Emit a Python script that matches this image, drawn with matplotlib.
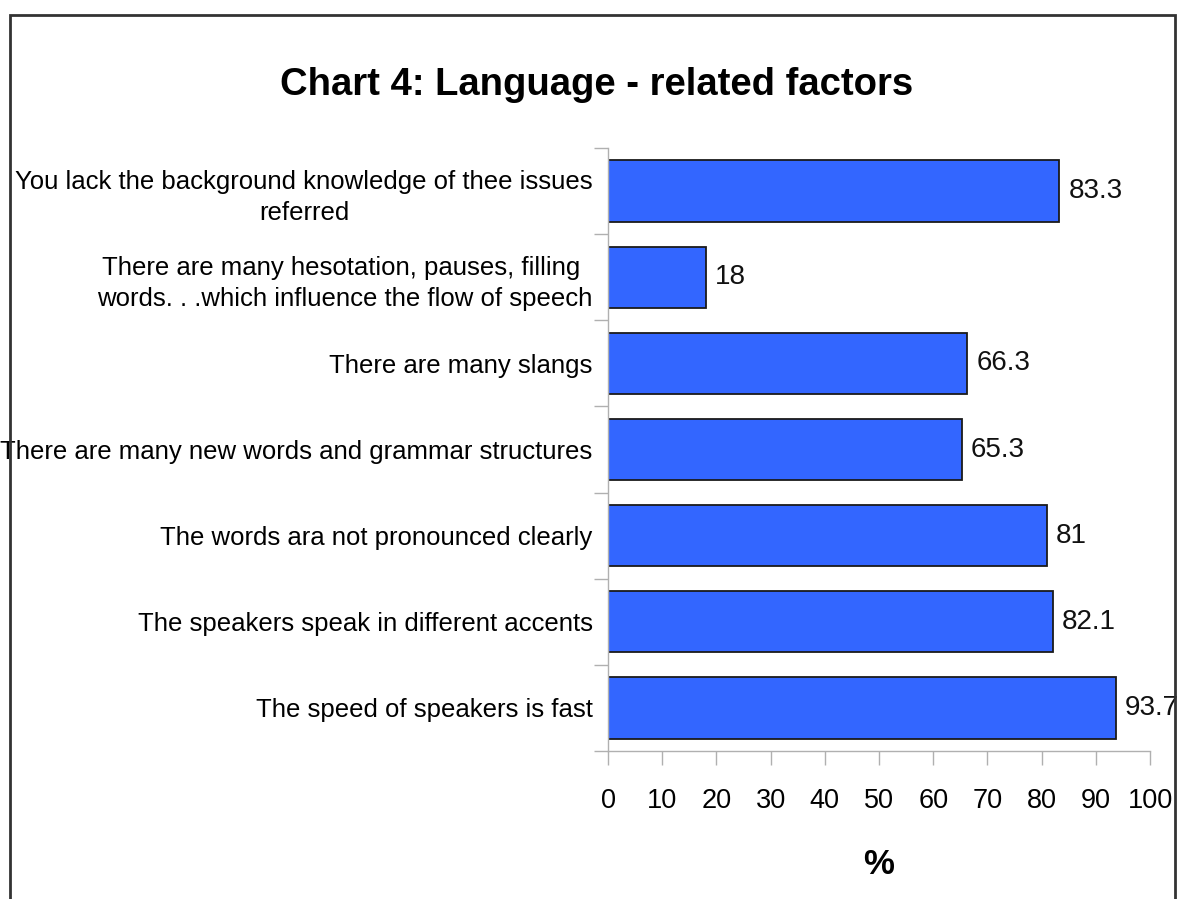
import matplotlib
matplotlib.use("Agg")
import matplotlib.pyplot as plt
from matplotlib.patches import Rectangle

categories = [
    "You lack the background knowledge of thee issues\nreferred",
    "There are many hesotation, pauses, filling \nwords. . .which influence the flow of speech",
    "There are many slangs",
    "There are many new words and grammar structures",
    "The words ara not pronounced clearly",
    "The speakers speak in different accents",
    "The speed of speakers is fast",
]
values = [83.3, 18, 66.3, 65.3, 81, 82.1, 93.7]
xticks = [0, 10, 20, 30, 40, 50, 60, 70, 80, 90, 100]
title = "Chart 4: Language - related factors"
xlabel = "%"

plt.rcParams["font.family"] = ["Liberation Sans", "DejaVu Sans"]

W, H = 1177, 899
fig = plt.figure(figsize=(W / 100, H / 100), dpi=100)
fig.patch.set_facecolor("white")

ax = fig.add_axes([608 / W, 1 - 751 / H, (1150 - 608) / W, (751 - 148) / H])
ypos = list(range(len(categories)))
ax.barh(ypos, values, height=0.71, color="#3366ff", edgecolor="#1a1a1a", linewidth=1.3)
ax.set_ylim(len(categories) - 0.5, -0.5)
ax.set_xlim(0, 100)

for y, v in zip(ypos, values):
    ax.annotate(f"{v:g}", xy=(v, y), xytext=(6.5, 0), textcoords="offset points",
                ha="left", va="center", fontsize=20, color="#111111")

# y axis: ticks at category boundaries, labels at centers
ax.set_yticks([i - 0.5 for i in range(len(categories) + 1)])
ax.set_yticklabels([])
ax.set_yticks(ypos, minor=True)
ax.set_yticklabels(categories, minor=True, fontsize=18.5, linespacing=1.4,
                   multialignment="center")
ax.tick_params(axis="y", which="minor", length=0, pad=11)
ax.tick_params(axis="y", which="major", length=10, color="#b0b0b0", width=1)

ax.set_xticks(xticks)
ax.set_xticklabels([str(t) for t in xticks], fontsize=19.5)
ax.tick_params(axis="x", length=10, color="#b0b0b0", width=1, pad=17)

for s in ["top", "right"]:
    ax.spines[s].set_visible(False)
for s in ["left", "bottom"]:
    ax.spines[s].set_color("#b0b0b0")
    ax.spines[s].set_linewidth(1)

ax.set_xlabel(xlabel, fontsize=25, fontweight="bold", labelpad=24)

fig.text(597 / W, 1 - 95 / H, title, ha="center", va="baseline",
         fontsize=27.5, fontweight="bold")

fig.add_artist(Rectangle((10 / W, -0.05), (1175 - 10) / W, 1.05 - 15 / H,
                         transform=fig.transFigure, fill=False,
                         edgecolor="#333333", linewidth=2))

fig.savefig("out.png", dpi=100)
